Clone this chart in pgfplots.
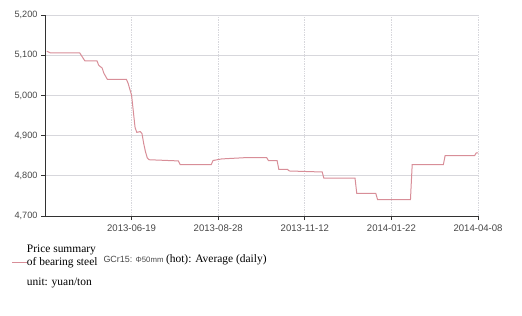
\documentclass[border=0pt]{standalone}
\usepackage{fontspec}
\setmainfont{Liberation Serif}
\setsansfont{Liberation Sans}
\usepackage{pgfplots}
\pgfplotsset{compat=1.18}
\definecolor{linepink}{RGB}{216,142,152}
\definecolor{gridgray}{RGB}{215,215,220}
\definecolor{ticktext}{RGB}{70,70,70}
\definecolor{axisgray}{RGB}{50,50,50}
\begin{document}
\begin{tikzpicture}[x=1bp,y=1bp]
\useasboundingbox (0,0) rectangle (522,315);
\begin{axis}[
  at={(45bp,99bp)}, anchor=south west,
  scale only axis, width=433bp, height=201bp,
  xmin=0, xmax=250, ymin=4700, ymax=5200,
  axis x line*=bottom, axis y line*=left,
  axis line style={draw=axisgray, line width=0.9bp},
  xtick={50,100,150,200,250},
  xticklabels={2013-06-19,2013-08-28,2013-11-12,2014-01-22,2014-04-08},
  ytick={4700,4800,4900,5000,5100,5200},
  grid=major,
  x grid style={gridgray, line width=0.7bp, densely dotted},
  y grid style={gridgray, line width=0.7bp},
  tick align=outside, major tick length=4bp,
  tick style={axisgray, line width=0.7bp},
  xticklabel style={font=\sffamily\fontsize{9.6}{10}\selectfont, text=ticktext, yshift=-1bp},
  yticklabel style={font=\sffamily\fontsize{9.2}{10}\selectfont, text=ticktext},
  /pgf/number format/assume math mode=true,
  /pgf/number format/1000 sep={,},
  clip=false,
]
\addplot[linepink, line width=1bp] coordinates {
(1,5110) (3,5106) (20,5106) (23,5086) (30,5086) (31,5075) (33,5068) (34,5055) (36,5040)
(47,5040) (48,5030) (49,5015) (50,5000) (51,4960) (52,4920) (53,4908) (55,4910) (56,4905)
(57,4880) (58,4860) (59,4845) (60,4840) (77,4837) (78,4828) (96,4828) (97,4838)
(102,4842) (115,4845) (128,4845) (129,4838) (134,4838) (135,4816) (140,4816) (141,4812)
(156,4810) (160,4810) (161,4794) (179,4794) (180,4756) (191,4756) (192,4741)
(211,4741) (212,4828) (230,4828) (231,4850) (248,4850) (249,4857) (250,4857)
};
\end{axis}
\draw[linepink, line width=1.1bp] (12,52.7) -- (26.7,52.7);
\node[anchor=base west, inner sep=0pt, font=\fontsize{11.5}{13}\selectfont] at (26.7,62.7) {Price summary};
\node[anchor=base west, inner sep=0pt, font=\fontsize{11.5}{13}\selectfont] at (26.7,50) {of bearing steel};
\node[anchor=base west, inner sep=0pt, font=\fontsize{11.5}{13}\selectfont] at (26.7,30) {unit: yuan/ton};
\node[anchor=base west, inner sep=0pt] at (103.3,52.7) {{\sffamily\fontsize{9}{10}\selectfont\color{ticktext}GCr15: \fontsize{7.8}{9}\selectfont Φ50mm} {\fontsize{11.5}{13}\selectfont(hot): Average (daily)}};
\end{tikzpicture}
\end{document}
